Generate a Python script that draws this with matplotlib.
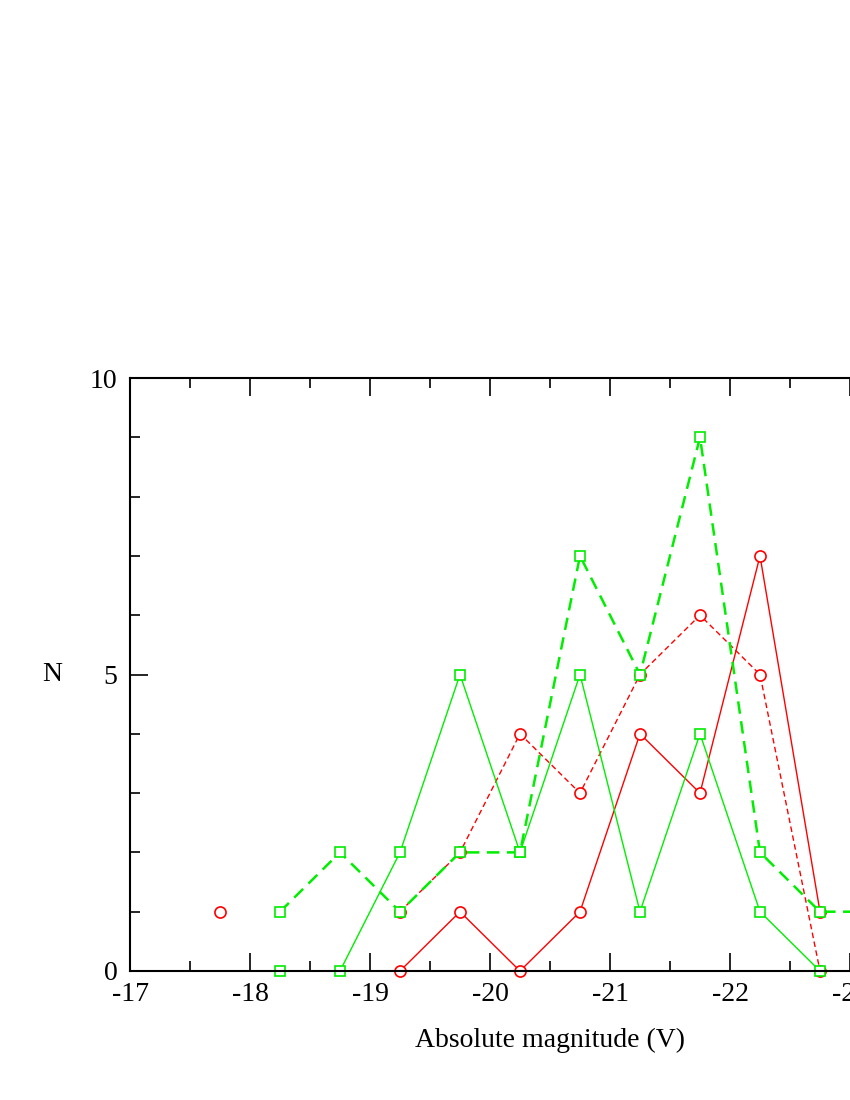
import numpy as np
import matplotlib.pyplot as plt
from matplotlib.ticker import MultipleLocator

plt.rcParams['font.family'] = ['Liberation Serif', 'DejaVu Serif']

# bin centres (absolute magnitude)
mag = [-17.75, -18.25, -18.75, -19.25, -19.75, -20.25, -20.75,
       -21.25, -21.75, -22.25, -22.75, -23.25]

nan = np.nan
red_solid = [nan, nan, nan, 0, 1, 0, 1, 4, 3, 7, 1, nan]
red_dashed = [1, nan, nan, 1, 2, 4, 3, 5, 6, 5, 0, nan]
green_solid = [nan, 0, 0, 2, 5, 2, 5, 1, 4, 1, 0, nan]
green_dashed = [nan, 1, 2, 1, 2, 2, 7, 5, 9, 2, 1, 1]

red = '#ff0000'
green = '#00ee00'

fig = plt.figure(figsize=(8.5, 11), dpi=100)
ax = fig.add_axes([130 / 850, 129 / 1100, 840 / 850, 593 / 1100])

ax.plot(mag, red_dashed, color=red, lw=1.0, ls=(0, (4, 2.5)),
        marker='o', ms=8, mfc='white', mec=red, mew=1.2, clip_on=False)
ax.plot(mag, red_solid, color=red, lw=1.0, ls='-',
        marker='o', ms=8, mfc='white', mec=red, mew=1.2, clip_on=False)
ax.plot(mag, green_dashed, color=green, lw=1.8, ls=(0, (5, 3)),
        marker='s', ms=7, mfc='white', mec=green, mew=1.2, clip_on=False)
ax.plot(mag, green_solid, color=green, lw=1.0, ls='-',
        marker='s', ms=7, mfc='white', mec=green, mew=1.2, clip_on=False)

ax.set_xlim(-17, -24)
ax.set_ylim(0, 10)
ax.xaxis.set_major_locator(MultipleLocator(1))
ax.xaxis.set_minor_locator(MultipleLocator(0.5))
ax.yaxis.set_major_locator(MultipleLocator(5))
ax.yaxis.set_minor_locator(MultipleLocator(1))
ax.tick_params(which='both', direction='in', top=True, right=True,
               labelsize=20, width=1.2)
ax.tick_params(axis='x', pad=8)
ax.tick_params(axis='y', pad=9)
ax.tick_params(which='major', length=13)
ax.tick_params(which='minor', length=7)
ax.xaxis.set_major_formatter(plt.FuncFormatter(lambda v, p: f'{v:.0f}'))
for s in ax.spines.values():
    s.set_linewidth(1.5)

ax.set_xlabel('Absolute magnitude (V)', fontsize=20, labelpad=15)
ax.set_ylabel('N', fontsize=20, rotation=0, labelpad=27, va='center')

fig.savefig('out.png', dpi=100)
